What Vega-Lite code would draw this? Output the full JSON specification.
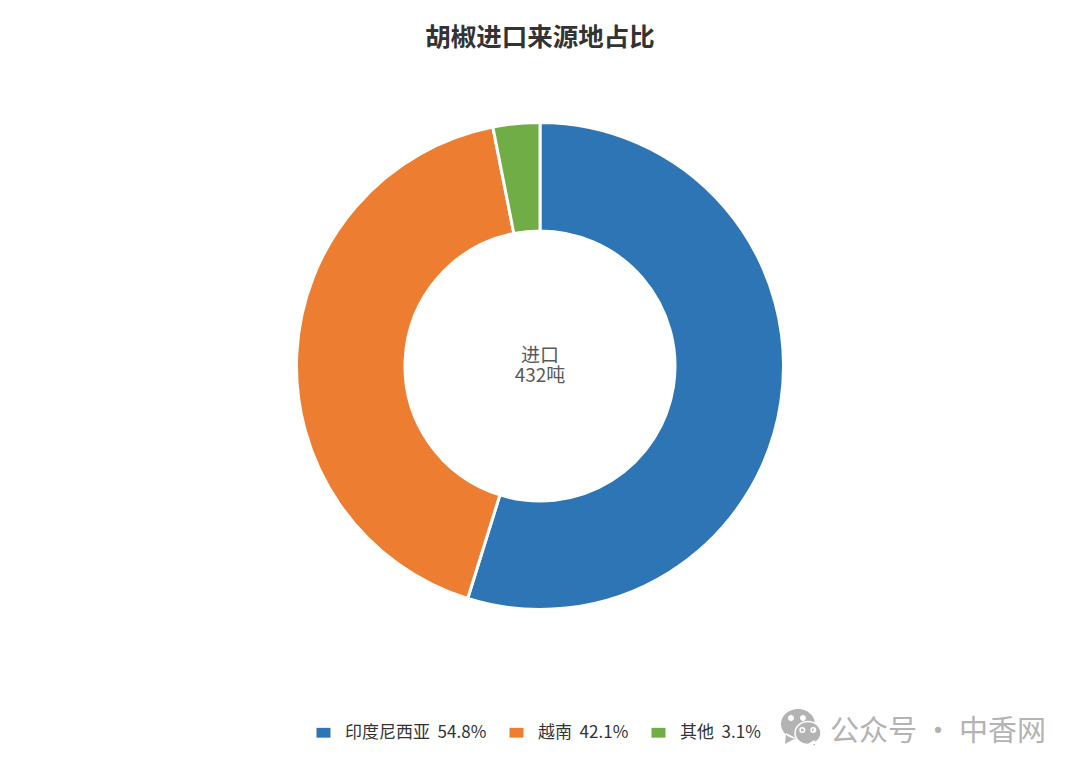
{
  "$schema": "https://vega.github.io/schema/vega-lite/v6.json",
  "width": 1080,
  "height": 612,
  "autosize": "none",
  "padding": {"left": 0, "top": 60, "right": 0, "bottom": 100},
  "background": "white",
  "config": {"view": {"stroke": null}, "font": "Noto Sans CJK SC"},
  "title": {
    "text": "胡椒进口来源地占比",
    "anchor": "middle",
    "font": "Noto Sans CJK SC",
    "fontSize": 25.5,
    "fontWeight": "bold",
    "color": "#333333",
    "offset": 9
  },
  "layer": [
    {
      "data": {
        "values": [
          {"source": "印度尼西亚\u00a0\u00a054.8%", "share": 54.8},
          {"source": "越南\u00a0\u00a042.1%", "share": 42.1},
          {"source": "其他\u00a0\u00a03.1%", "share": 3.1}
        ]
      },
      "mark": {"type": "arc", "outerRadius": 243.5, "innerRadius": 135, "stroke": "white", "strokeWidth": 3},
      "encoding": {
        "theta": {"field": "share", "type": "quantitative", "stack": true},
        "order": {"field": "share", "type": "quantitative", "sort": "descending"},
        "color": {
          "field": "source",
          "type": "nominal",
          "sort": null,
          "scale": {
            "domain": ["印度尼西亚\u00a0\u00a054.8%", "越南\u00a0\u00a042.1%", "其他\u00a0\u00a03.1%"],
            "range": ["#2e75b6", "#ed7d31", "#70ad47"]
          },
          "legend": {
            "title": null,
            "orient": "none",
            "direction": "horizontal",
            "columns": 3,
            "legendX": 315,
            "legendY": 664,
            "symbolType": "M-1,-0.7H1V0.7H-1Z",
            "symbolSize": 196,
            "symbolStrokeWidth": 0,
            "labelFontSize": 17,
            "labelColor": "#333333",
            "labelFont": "Noto Sans CJK SC",
            "labelOffset": 13,
            "columnPadding": 21,
            "labelLimit": 300
          }
        }
      }
    },
    {
      "data": {"values": [{"label": "进口\n432吨"}]},
      "mark": {"type": "text", "lineBreak": "\n", "fontSize": 19, "lineHeight": 20, "color": "#595959", "align": "center", "baseline": "middle", "dy": -10},
      "encoding": {"text": {"field": "label", "type": "nominal"}}
    },
    {
      "data": {"values": [{"label": "公众号 · 中香网"}]},
      "mark": {"type": "text", "fontSize": 29, "color": "#b3b3b3", "align": "center", "baseline": "middle", "dx": 398, "dy": 366},
      "encoding": {"text": {"field": "label", "type": "nominal"}}
    },
    {
      "data": {"values": [{"icon": "wechat"}]},
      "mark": {
        "type": "point",
        "filled": true,
        "opacity": 1,
        "size": 4,
        "color": "#b3b3b3",
        "shape": "M241,358a17,15 0 1,1 34,0a17,15 0 1,1 -34,0ZM246,367L245,378L256,372ZM248,352a3,3 0 1,0 6,0a3,3 0 1,0 -6,0ZM260,352a3,3 0 1,0 6,0a3,3 0 1,0 -6,0Z"
      },
      "encoding": {}
    },
    {
      "data": {"values": [{"icon": "wechat"}]},
      "mark": {
        "type": "point",
        "filled": true,
        "opacity": 1,
        "size": 4,
        "color": "#b3b3b3",
        "stroke": "white",
        "strokeWidth": 1.5,
        "shape": "M255,367a13,11.5 0 1,1 26,0a13,11.5 0 1,1 -26,0ZM274,375L277,381L269,378ZM260,364a2.3,2.3 0 1,0 4.6,0a2.3,2.3 0 1,0 -4.6,0ZM271,364a2.3,2.3 0 1,0 4.6,0a2.3,2.3 0 1,0 -4.6,0Z"
      },
      "encoding": {}
    }
  ]
}
